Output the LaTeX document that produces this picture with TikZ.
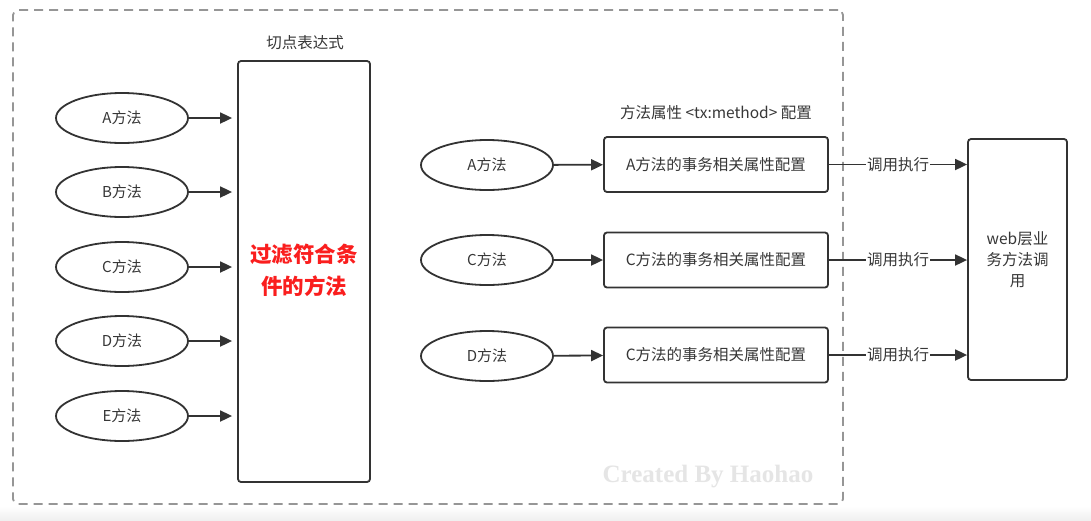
\documentclass[tikz,border=0pt]{standalone}
\usepackage{fontspec}
\setmainfont{Noto Sans CJK SC}
\newfontfamily\wmfont{Liberation Serif}
\usetikzlibrary{shapes.geometric,arrows.meta}
\definecolor{ln}{RGB}{51,51,51}
\definecolor{txt}{RGB}{55,55,55}
\definecolor{frm}{RGB}{150,150,150}
\definecolor{redtxt}{RGB}{250,30,30}
\begin{document}
\begin{tikzpicture}[x=1pt,y=-1pt,
  every node/.style={text=txt},
  meth/.style={ellipse,draw=ln,line width=1.8pt,minimum width=132pt,minimum height=50pt,inner sep=0pt,font=\fontsize{15}{17}\selectfont},
  cfg/.style={rectangle,rounded corners=3pt,draw=ln,line width=1.8pt,minimum width=224pt,minimum height=55pt,inner sep=0pt,font=\fontsize{15.5}{17}\selectfont},
  tall/.style={rectangle,rounded corners=3pt,draw=ln,line width=1.8pt,inner sep=0pt},
  arr/.style={draw=ln,line width=1.8pt,-{Triangle[length=12pt,width=11pt]}},
  lbl/.style={font=\fontsize{15.5}{17}\selectfont},
  edgelbl/.style={fill=white,inner sep=1pt,font=\fontsize{15.5}{17}\selectfont}
]
\useasboundingbox (0,0) rectangle (1091,520);
\fill[white] (0,0) rectangle (1091,520);
\shade[top color=white,bottom color=gray!12] (0,506) rectangle (1091,520);
% frame
\node[draw=frm,dashed,dash pattern=on 9pt off 6pt,line width=1.8pt,rounded corners=5pt,minimum width=830pt,minimum height=494pt,inner sep=0pt] (frame) at (428,257) {};
% watermark
\node[text=gray!20,font=\wmfont\bfseries\fontsize{25}{28}\selectfont] (wm) at (708,477) {Created By Haohao};
% left column
\node[tall,minimum width=132pt,minimum height=421pt] (filter) at (304,271.5) {};
\node[text=redtxt,font=\bfseries\fontsize{21.5}{32}\selectfont,align=center] (filtertxt) at (304,270) {过滤符合条\\件的方法};
\node[lbl] (pc) at (305,43) {切点表达式};
\node[meth] (la) at (122,118) {A方法};
\node[meth] (lb) at (122,192) {B方法};
\node[meth] (lc) at (122,267) {C方法};
\node[meth] (ld) at (122,341) {D方法};
\node[meth] (le) at (122,416) {E方法};
\foreach \n in {la,lb,lc,ld,le}
  \draw[arr,shorten >=5pt] (\n.east) -- (\n.east -| filter.west);
% middle
\node[lbl] (mt) at (716,113) {方法属性 <tx:method> 配置};
\node[meth] (ma) at (487,165) {A方法};
\node[meth] (mc) at (487,260) {C方法};
\node[meth] (md) at (487,356) {D方法};
\node[cfg] (ca) at (716,164.5) {A方法的事务相关属性配置};
\node[cfg] (cc) at (716,260) {C方法的事务相关属性配置};
\node[cfg] (cd) at (716,355) {C方法的事务相关属性配置};
\draw[arr] (ma) -- (ca);
\draw[arr] (mc) -- (cc);
\draw[arr] (md) -- (cd);
% right
\node[tall,minimum width=99pt,minimum height=241pt,align=center,font=\fontsize{15.5}{21}\selectfont] (web) at (1017.5,259.5) {web层业\\务方法调\\用};
\draw[arr] (ca.east) -- (ca.east -| web.west) node[midway,edgelbl] {调用执行};
\draw[arr] (cc.east) -- (cc.east -| web.west) node[midway,edgelbl] {调用执行};
\draw[arr] (cd.east) -- (cd.east -| web.west) node[midway,edgelbl] {调用执行};
\end{tikzpicture}
\end{document}
